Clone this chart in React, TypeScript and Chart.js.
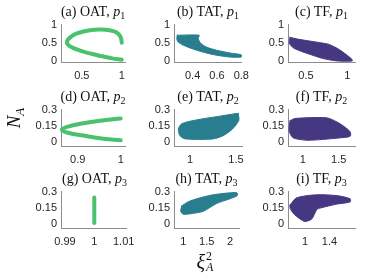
import React, { useEffect, useRef } from "react";
import { Chart, registerables } from "chart.js";
Chart.register(...registerables);

// ---------- data ----------
// (a) OAT, p1
const aX = [1.0, 0.985, 0.95, 0.89, 0.8, 0.71, 0.62, 0.52, 0.43, 0.36, 0.315, 0.33, 0.39, 0.47, 0.56, 0.67, 0.77, 0.88, 1.0];
const aY = [0.5, 0.66, 0.76, 0.82, 0.86, 0.865, 0.85, 0.81, 0.75, 0.66, 0.54, 0.44, 0.36, 0.29, 0.23, 0.17, 0.12, 0.07, 0.03];
// (b) TAT, p1
const bX = [0.274, 0.454, 0.446, 0.465, 0.514, 0.596, 0.705, 0.8, 0.8, 0.705, 0.568, 0.432, 0.323, 0.277, 0.27, 0.274];
const bY = [0.708, 0.708, 0.62, 0.49, 0.38, 0.296, 0.22, 0.168, 0.107, 0.107, 0.175, 0.296, 0.433, 0.535, 0.62, 0.708];
// (c) TF, p1
const cX = [0.306, 0.4, 0.508, 0.65, 0.77, 0.85, 0.93, 1.0, 1.05, 1.06, 0.87, 0.71, 0.588, 0.448, 0.346, 0.298, 0.306];
const cY = [0.65, 0.6, 0.56, 0.51, 0.46, 0.38, 0.27, 0.15, 0.06, 0.0, 0.0, 0.064, 0.15, 0.26, 0.36, 0.49, 0.65];
// (d) OAT, p2
const dX = [1.0, 0.952, 0.906, 0.875, 0.863, 0.875, 0.913, 0.96, 1.0];
const dY = [0.218, 0.198, 0.17, 0.141, 0.118, 0.089, 0.061, 0.032, 0.018];
// (e) TAT, p2
const eX = [1.525, 1.53, 1.46, 1.36, 1.25, 0.95, 0.89, 0.873, 0.91, 1.07, 1.29, 1.51, 1.525];
const eY = [0.265, 0.2, 0.12, 0.06, 0.03, 0.03, 0.06, 0.12, 0.17, 0.205, 0.235, 0.265, 0.265];
// (f) TF, p2
const fX = [0.824, 0.893, 1.194, 1.356, 1.518, 1.657, 1.66, 1.518, 1.286, 1.056, 0.869, 0.814, 0.814, 0.824];
const fY = [0.198, 0.218, 0.227, 0.221, 0.17, 0.098, 0.055, 0.04, 0.026, 0.018, 0.04, 0.098, 0.155, 0.198];
// (g) OAT, p3
const gX = [1.0, 1.0];
const gY = [0.012, 0.245];
// (h) TAT, p3
const hX = [0.966, 1.1, 1.287, 1.642, 2.143, 2.156, 2.0, 1.715, 1.43, 1.287, 1.0, 0.944, 0.966];
const hY = [0.168, 0.205, 0.234, 0.271, 0.291, 0.263, 0.234, 0.191, 0.119, 0.105, 0.091, 0.119, 0.168];
// (i) TF, p3
const iX = [0.753, 0.863, 1.192, 1.521, 1.74, 1.74, 1.521, 1.247, 1.192, 1.11, 1.0, 0.918, 0.808, 0.753, 0.753];
const iY = [0.177, 0.243, 0.271, 0.263, 0.234, 0.205, 0.185, 0.148, 0.134, 0.048, 0.025, 0.048, 0.099, 0.148, 0.177];

// tick values
const xTicksA = [0.5, 1];
const xTicksB = [0.4, 0.6, 0.8];
const xTicksC = [0.5, 1];
const xTicksD = [0.9, 1];
const xTicksE = [1, 1.5];
const xTicksF = [1, 1.5];
const xTicksG = [0.99, 1, 1.01];
const xTicksH = [1, 1.5, 2];
const xTicksI = [1, 1.4];
const yTicksRow1 = [0, 0.5, 1];
const yTicksRow23 = [0, 0.15, 0.3];

// titles
const letters = ["a", "b", "c", "d", "e", "f", "g", "h", "i"];
const methods = ["OAT", "TAT", "TF", "OAT", "TAT", "TF", "OAT", "TAT", "TF"];
const paramIdx = ["1", "1", "1", "2", "2", "2", "3", "3", "3"];

// ---------- style / layout ----------
const OAT_C = "#4ac16d";
const TAT_C = "#287d8e";
const TF_C = "#453781";
const AXIS_C = "#8c8c8c";
const TICK_C = "#262626";
const TICK_FONT = { family: "'Liberation Sans', Arial, sans-serif", size: 11 };

const PT = 8; // top padding in canvas
const PR = 14; // right padding
const YW = 32; // y-axis width
const XH = 22; // x-axis height

type PanelCfg = {
  xs: number[]; ys: number[]; kind: "curve" | "line" | "shape"; color: string;
  xt: number[]; yt: number[]; xmin: number; xmax: number; ymin: number; ymax: number;
  left: number; top: number; w: number; h: number;
};

const rows = [
  { top: 22, h: 40, ymin: -0.03, ymax: 1, yt: yTicksRow1 },
  { top: 107, h: 39, ymin: -0.035, ymax: 0.3, yt: yTicksRow23 },
  { top: 189, h: 39, ymin: -0.035, ymax: 0.3, yt: yTicksRow23 },
];

function row(r: number) {
  const R = rows[r];
  return { top: R.top, h: R.h, ymin: R.ymin, ymax: R.ymax, yt: R.yt };
}

const panels: PanelCfg[] = [
  { xs: aX, ys: aY, kind: "curve", color: OAT_C, xt: xTicksA, xmin: 0.24, xmax: 1.04, left: 61, w: 64, ...row(0) },
  { xs: bX, ys: bY, kind: "shape", color: TAT_C, xt: xTicksB, xmin: 0.247, xmax: 0.802, left: 174, w: 68, ...row(0) },
  { xs: cX, ys: cY, kind: "shape", color: TF_C, xt: xTicksC, xmin: 0.282, xmax: 1.093, left: 288, w: 67, ...row(0) },
  { xs: dX, ys: dY, kind: "curve", color: OAT_C, xt: xTicksD, xmin: 0.861, xmax: 1.01, left: 61, w: 64, ...row(1) },
  { xs: eX, ys: eY, kind: "shape", color: TAT_C, xt: xTicksE, xmin: 0.826, xmax: 1.565, left: 174, w: 68, ...row(1) },
  { xs: fX, ys: fY, kind: "shape", color: TF_C, xt: xTicksF, xmin: 0.796, xmax: 1.726, left: 288, w: 67, ...row(1) },
  { xs: gX, ys: gY, kind: "line", color: OAT_C, xt: xTicksG, xmin: 0.98867, xmax: 1.011, left: 61, w: 67, ...row(2) },
  { xs: hX, ys: hY, kind: "shape", color: TAT_C, xt: xTicksH, xmin: 0.8, xmax: 2.193, left: 174, w: 65, ...row(2) },
  { xs: iX, ys: iY, kind: "shape", color: TF_C, xt: xTicksI, xmin: 0.72, xmax: 1.82, left: 288, w: 67, ...row(2) },
];

function Panel({ cfg }: { cfg: PanelCfg }) {
  const ref = useRef<HTMLCanvasElement>(null);
  const W = YW + cfg.w + PR;
  const H = PT + cfg.h + XH;
  useEffect(() => {
    if (!ref.current) return;
    const isShape = cfg.kind === "shape";
    const chart = new Chart(ref.current, {
      type: "scatter",
      data: {
        datasets: [
          {
            data: cfg.xs.map((x, i) => ({ x, y: cfg.ys[i] })),
            showLine: true,
            borderColor: cfg.color,
            backgroundColor: cfg.color,
            borderWidth: isShape ? 1 : 4,
            borderCapStyle: "round",
            borderJoinStyle: "round",
            fill: isShape ? "shape" : false,
            pointRadius: 0,
            tension: cfg.kind === "curve" ? 0.4 : isShape ? 0.25 : 0,
            clip: false,
          } as any,
        ],
      },
      options: {
        responsive: false,
        animation: false,
        devicePixelRatio: 1,
        events: [],
        layout: { padding: { left: 0, top: PT, right: PR, bottom: 0 } },
        plugins: { legend: { display: false }, tooltip: { enabled: false }, title: { display: false } },
        scales: {
          x: {
            type: "linear",
            min: cfg.xmin,
            max: cfg.xmax,
            afterBuildTicks: (s: any) => { s.ticks = cfg.xt.map((v) => ({ value: v })); },
            afterFit: (s: any) => { s.height = XH; },
            grid: { display: false, drawTicks: false },
            border: { display: true, color: AXIS_C, width: 1 },
            ticks: { autoSkip: false, maxRotation: 0, padding: 7, color: TICK_C, font: TICK_FONT, callback: (v: any) => String(v) },
          },
          y: {
            type: "linear",
            min: cfg.ymin,
            max: cfg.ymax,
            afterBuildTicks: (s: any) => { s.ticks = cfg.yt.map((v) => ({ value: v })); },
            afterFit: (s: any) => { s.width = YW; },
            grid: { display: false, drawTicks: false },
            border: { display: true, color: AXIS_C, width: 1 },
            ticks: { autoSkip: false, padding: 4, color: TICK_C, font: TICK_FONT, callback: (v: any) => String(v) },
          },
        },
      } as any,
    });
    return () => chart.destroy();
  }, []);
  return (
    <div style={{ position: "absolute", left: cfg.left - YW, top: cfg.top - PT, width: W, height: H }}>
      <canvas ref={ref} width={W} height={H} style={{ width: W, height: H, display: "block" }} />
    </div>
  );
}

const serif = "'Liberation Serif', 'Times New Roman', serif";

export default function App() {
  return (
    <div style={{ position: "fixed", left: 0, top: 0, width: 374, height: 280, background: "#fff", overflow: "hidden" }}>
      {panels.map((p, k) => (
        <React.Fragment key={k}>
          <Panel cfg={p} />
          <div
            style={{
              position: "absolute", left: p.left - 20, width: p.w + 40, top: p.top - 19, height: 17,
              textAlign: "center", fontFamily: serif, fontSize: 14, lineHeight: "17px", color: "#111", whiteSpace: "nowrap",
            }}
          >
            ({letters[k]}) {methods[k]}, <i>p</i>
            <span style={{ fontSize: 10, position: "relative", top: 3 }}>{paramIdx[k]}</span>
          </div>
        </React.Fragment>
      ))}
      <div
        style={{
          position: "absolute", left: 15, top: 118, transform: "translate(-50%, -50%) rotate(-90deg)",
          fontFamily: serif, fontSize: 19, color: "#111", whiteSpace: "nowrap", lineHeight: "20px",
        }}
      >
        <i>N</i>
        <span style={{ fontSize: 13, position: "relative", top: 4 }}><i>A</i></span>
      </div>
      <div
        style={{
          position: "absolute", left: 205, top: 262, transform: "translate(-50%, -50%)",
          fontFamily: serif, fontSize: 20, color: "#111", whiteSpace: "nowrap", lineHeight: "22px",
          display: "flex", alignItems: "center",
        }}
      >
        <i>ξ</i>
        <span style={{ display: "inline-flex", flexDirection: "column", fontSize: 12, lineHeight: "11px", marginLeft: 1 }}>
          <span>2</span>
          <span><i>A</i></span>
        </span>
      </div>
    </div>
  );
}
